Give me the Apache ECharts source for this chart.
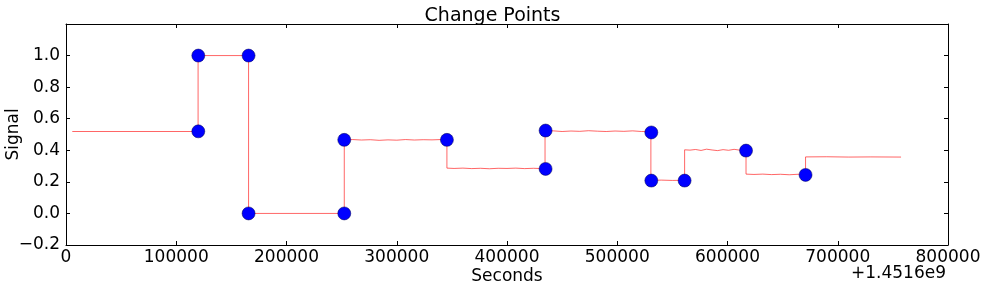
<!DOCTYPE html>
<html>
<head>
<meta charset="utf-8">
<script src="https://cdn.jsdelivr.net/npm/echarts@6/dist/echarts.min.js"></script>
<style>html,body{margin:0;padding:0;background:#fff}#c{width:985px;height:288px}</style>
</head>
<body>
<div id="c"></div>
<script>
// Signal trace (seconds offset from 1.4516e9, signal value)
var lineX = [5700,119800,119800,165600,165600,252400,252400,260000,268000,276000,284000,292000,300000,308000,316000,324000,332000,340000,345500,
  345500,352000,360000,368000,376000,384000,392000,400000,408000,416000,424000,432000,434500,
  434500,442000,450000,458000,466000,474000,482000,490000,498000,506000,514000,522000,530500,
  530500,540000,550000,561100,
  561100,566000,571000,576000,581000,586000,591000,596000,601000,606000,611000,616800,
  616800,624000,632000,640000,648000,656000,664000,670800,
  670800,690000,710000,730000,757400];
var lineY = [0.519,0.519,1.0,1.0,0.0,0.0,0.466,0.468,0.465,0.467,0.463,0.466,0.464,0.468,0.465,0.467,0.466,0.468,0.466,
  0.287,0.285,0.287,0.284,0.286,0.283,0.286,0.285,0.287,0.284,0.286,0.284,0.285,
  0.521,0.523,0.519,0.522,0.520,0.524,0.521,0.519,0.522,0.520,0.523,0.519,0.520,
  0.210,0.211,0.209,0.210,
  0.403,0.401,0.405,0.399,0.407,0.402,0.398,0.404,0.400,0.406,0.401,0.402,
  0.249,0.247,0.249,0.246,0.248,0.245,0.248,0.247,
  0.358,0.359,0.357,0.358,0.357];
// Change points
var cpX = [120000,120000,165600,165600,252400,252400,345500,435000,435000,530900,530900,561100,616800,670800];
var cpY = [0.52,1.0,1.0,0.0,0.0,0.466,0.466,0.282,0.525,0.513,0.208,0.208,0.398,0.244];
// Axis ticks
var xTicks = [0,100000,200000,300000,400000,500000,600000,700000,800000];
var yTicks = [-0.2,0.0,0.2,0.4,0.6,0.8,1.0,1.2];

var FONT = 'DejaVu Sans';
var FS = 17;
var lineData = lineX.map(function(x,i){return [x,lineY[i]];});
var cpData = cpX.map(function(x,i){return [x,cpY[i]];});

function yFmt(v){
  if (v > 1.1) return '';
  var s = Math.abs(v).toFixed(1);
  return (v < -1e-9 ? '\u2212' : '') + s;
}
function xFmt(v){ return String(Math.round(v)); }
var axisLineStyle = {show:true, onZero:false, lineStyle:{color:'#000', width:1}};
var tickStyle = {show:true, inside:true, length:4, lineStyle:{color:'#000', width:1}};

var chart = echarts.init(document.getElementById('c'), null, {renderer:'canvas'});
chart.setOption({
  animation:false,
  backgroundColor:'#fff',
  title:{text:'Change Points', left:'center', top:2, textStyle:{fontFamily:FONT, fontSize:19, fontWeight:'normal', color:'#000'}},
  grid:{left:66, right:37, top:24, bottom:43, containLabel:false, outerBoundsMode:'none'},
  xAxis:[{
    type:'value', min:xTicks[0], max:xTicks[xTicks.length-1], interval:100000, position:'bottom',
    name:'Seconds', nameLocation:'middle', nameGap:23, nameMoveOverlap:false,
    nameTextStyle:{fontFamily:FONT, fontSize:FS, color:'#000'},
    axisLine:axisLineStyle, axisTick:tickStyle, splitLine:{show:false},
    axisLabel:{fontFamily:FONT, fontSize:FS, color:'#000', margin:4, showMaxLabel:true, showMinLabel:true, formatter:xFmt}
  },{
    type:'value', min:xTicks[0], max:xTicks[xTicks.length-1], interval:100000, position:'top',
    axisLine:axisLineStyle, axisTick:tickStyle, splitLine:{show:false}, axisLabel:{show:false}
  }],
  yAxis:[{
    type:'value', min:yTicks[0], max:yTicks[yTicks.length-1], interval:0.2, position:'left',
    name:'Signal', nameLocation:'middle', nameGap:44, nameRotate:90, nameMoveOverlap:false,
    nameTextStyle:{fontFamily:FONT, fontSize:FS, color:'#000'},
    axisLine:axisLineStyle, axisTick:tickStyle, splitLine:{show:false},
    axisLabel:{fontFamily:FONT, fontSize:FS, color:'#000', margin:6, formatter:yFmt}
  },{
    type:'value', min:yTicks[0], max:yTicks[yTicks.length-1], interval:0.2, position:'right',
    axisLine:axisLineStyle, axisTick:tickStyle, splitLine:{show:false}, axisLabel:{show:false}
  }],
  graphic:[{
    type:'text', right:39, top:265,
    style:{text:'+1.4516e9', font:FS + 'px "DejaVu Sans"', fill:'#000'}
  }],
  series:[{
    type:'line', data:lineData, xAxisIndex:0, yAxisIndex:0,
    showSymbol:false, symbol:'none',
    lineStyle:{color:'rgba(255,0,0,0.6)', width:1}, z:2
  },{
    type:'scatter', data:cpData, xAxisIndex:0, yAxisIndex:0,
    symbol:'circle', symbolSize:13,
    itemStyle:{color:'#0000ff', borderColor:'#00004d', borderWidth:0.5, opacity:1}, z:3
  }]
});
</script>
</body>
</html>
